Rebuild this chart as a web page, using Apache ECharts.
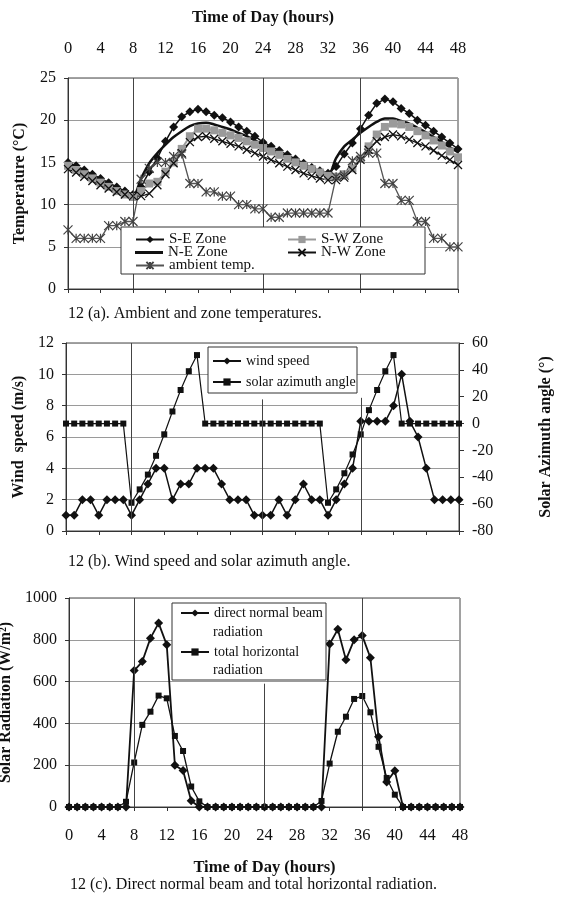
<!DOCTYPE html>
<html lang="en">
<head>
<meta charset="UTF-8">
<title>Fig. 12 - zone temperatures, wind and solar radiation</title>
<style>
  html, body { margin: 0; padding: 0; background: #fff; }
  #chart { width: 571px; height: 903px; }
</style>
</head>
<body>
<div id="chart"></div>
<script src="https://cdn.jsdelivr.net/npm/echarts@6.0.0/dist/echarts.min.js"></script>
<script>
// time of day (hours), shared by the three panels
var hours = [0, 1, 2, 3, 4, 5, 6, 7, 8, 9, 10, 11, 12, 13, 14, 15, 16, 17, 18, 19, 20, 21, 22, 23, 24,
             25, 26, 27, 28, 29, 30, 31, 32, 33, 34, 35, 36, 37, 38, 39, 40, 41, 42, 43, 44, 45, 46, 47, 48];

// 12 (a) temperatures, deg C
var seZone = [15.0, 14.6, 14.1, 13.6, 13.1, 12.6, 12.1, 11.6, 11.2,
              12.1, 13.9, 15.5, 17.5, 19.2, 20.4, 21.0, 21.3, 21.0, 20.6, 20.3, 19.8, 19.2,
              18.7, 18.1, 17.4, 16.9, 16.4, 15.9, 15.4, 14.9, 14.4, 14.0, 13.7,
              14.5, 16.0, 17.3, 19.0, 20.6, 22.0, 22.5, 22.2, 21.4, 20.8, 20.0, 19.4, 18.7, 18.0, 17.3, 16.6];
var swZone = [14.6, 14.1, 13.6, 13.1, 12.6, 12.1, 11.6, 11.2, 10.9,
              11.6, 12.5, 12.7, 13.9, 15.0, 16.6, 18.1, 19.0, 19.0, 18.8, 18.5, 18.2, 17.9,
              17.5, 17.1, 16.7, 16.3, 15.9, 15.4, 15.0, 14.6, 14.2, 13.8, 13.4,
              13.3, 13.6, 14.3, 15.4, 16.9, 18.3, 19.2, 19.6, 19.5, 19.2, 18.7, 18.2, 17.6, 17.0, 16.3, 15.6];
var neZone = [14.6, 14.1, 13.6, 13.1, 12.6, 12.1, 11.7, 11.3, 11.0,
              13.1, 14.9, 16.1, 17.1, 18.0, 18.7, 19.3, 19.6, 19.7, 19.5, 19.2, 18.9, 18.5,
              18.1, 17.6, 17.1, 16.6, 16.1, 15.6, 15.1, 14.6, 14.2, 13.8, 13.5,
              15.5, 16.9, 17.7, 18.5, 19.2, 19.8, 20.2, 20.2, 19.9, 19.6, 19.1, 18.6, 18.0, 17.4, 16.8, 16.2];
var nwZone = [14.2, 13.8, 13.3, 12.8, 12.3, 11.9, 11.5, 11.2, 11.0,
              11.0, 11.3, 12.3, 13.6, 14.9, 16.1, 17.4, 18.0, 18.1, 17.8, 17.5, 17.2, 16.9,
              16.5, 16.1, 15.7, 15.3, 14.9, 14.5, 14.1, 13.7, 13.4, 13.1, 12.9,
              12.9, 13.2, 14.1, 15.3, 16.5, 17.5, 18.0, 18.3, 18.1, 17.7, 17.3, 16.9, 16.4, 15.8, 15.3, 14.7];
var ambient = [7.0, 6.0, 6.0, 6.0, 6.0, 7.5, 7.5, 8.0, 8.0,
               13.0, 14.3, 15.0, 15.0, 15.7, 16.0, 12.5, 12.5, 11.5, 11.5, 11.0, 11.0, 10.0,
               10.0, 9.5, 9.5, 8.5, 8.5, 9.0, 9.0, 9.0, 9.0, 9.0, 9.0,
               13.3, 13.5, 15.2, 15.7, 16.1, 16.1, 12.5, 12.5, 10.5, 10.5, 8.0, 8.0, 6.0, 6.0, 5.0, 5.0];

// 12 (b) wind speed (m/s) and solar azimuth angle (deg)
var windSpeed = [1, 1, 2, 2, 1, 2, 2, 2, 1, 2, 3, 4, 4, 2, 3, 3, 4, 4, 4, 3, 2, 2, 2, 1, 1,
                 1, 2, 1, 2, 3, 2, 2, 1, 2, 3, 4, 7, 7, 7, 7, 8, 10, 7, 6, 4, 2, 2, 2, 2];
var azimuth = [0, 0, 0, 0, 0, 0, 0, 0,
               -59, -49, -38, -24, -8, 9, 25, 39, 51,
               0, 0, 0, 0, 0, 0, 0, 0, 0, 0, 0, 0, 0, 0, 0,
               -59, -49, -37, -23, -8, 10, 25, 39, 51,
               0, 0, 0, 0, 0, 0, 0, 0];

// 12 (c) radiation, W/m2
var directBeam = [0, 0, 0, 0, 0, 0, 0, 0,
                  653, 696, 808, 880, 776, 200, 175, 30, 0,
                  0, 0, 0, 0, 0, 0, 0, 0, 0, 0, 0, 0, 0, 0, 0,
                  780, 850, 704, 800, 820, 714, 336, 120, 173, 0,
                  0, 0, 0, 0, 0, 0, 0];
var totalHoriz = [0, 0, 0, 0, 0, 0, 0,
                  25, 213, 393, 456, 533, 520, 340, 268, 98, 27, 0,
                  0, 0, 0, 0, 0, 0, 0, 0, 0, 0, 0, 0, 0,
                  29, 208, 360, 432, 517, 531, 453, 288, 139, 59, 0,
                  0, 0, 0, 0, 0, 0, 0];

// hours with a dark vertical line in the original figure
var guideHours = [8, 24, 36];

var FONT = 'Liberation Serif';
var INK = '#111';
var SYM_X = 'path://M0,0L10,10M10,0L0,10';
var SYM_STAR = 'path://M0,0L10,10M10,0L0,10M5,0L5,10';

function pairs(values) {
    return hours.map(function (h, i) { return [h, values[i]]; });
}

// plain numbers on the axes, no thousands separator
function plain(v) { return String(v); }

function xAxis(gridIndex, opts) {
    var ax = {
        type: 'value', gridIndex: gridIndex, min: 0, max: 48, interval: 4,
        axisLine: { show: true, lineStyle: { color: '#333', width: 1 } },
        axisTick: { show: true, length: 4, lineStyle: { color: '#333' } },
        axisLabel: { show: false, fontFamily: FONT, fontSize: 16, color: INK, margin: 16 },
        splitLine: { show: false }
    };
    return Object.assign(ax, opts || {});
}

function yAxis(gridIndex, min, max, interval, name, nameGap, opts) {
    var ax = {
        type: 'value', gridIndex: gridIndex, min: min, max: max, interval: interval,
        name: name, nameLocation: 'middle', nameGap: nameGap, nameRotate: 90,
        nameTextStyle: { fontFamily: FONT, fontSize: 16, fontWeight: 'bold', color: INK },
        axisLine: { show: true, lineStyle: { color: '#333', width: 1 } },
        axisTick: { show: true, length: 4, lineStyle: { color: '#333' } },
        axisLabel: { fontFamily: FONT, fontSize: 16, color: INK, margin: 12, formatter: plain },
        splitLine: { show: true, lineStyle: { color: '#9a9a9a', width: 1 } }
    };
    return Object.assign(ax, opts || {});
}

function guides(tops) {
    // tops: optional upper end (in y units) for a guide line, keyed by hour
    return guideHours.map(function (h) {
        if (tops && tops[h] !== undefined) {
            return [{ coord: [h, 0] }, { coord: [h, tops[h]] }];
        }
        return { xAxis: h };
    });
}

function markLines(tops) {
    return {
        silent: true, symbol: ['none', 'none'], animation: false,
        label: { show: false },
        lineStyle: { color: '#444', width: 1, type: 'solid' },
        data: guides(tops)
    };
}

function legendItem(item, left, top, size) {
    return {
        data: [item], left: left, top: top, padding: 0, orient: 'horizontal',
        itemWidth: 28, itemHeight: 9, selectedMode: false, z: 20,
        textStyle: { fontFamily: FONT, fontSize: size, lineHeight: size, color: INK }
    };
}

function box(x, y, w, h) {
    return {
        type: 'rect', z: 10, silent: true,
        shape: { x: x, y: y, width: w, height: h },
        style: { fill: '#fff', stroke: '#333', lineWidth: 1 }
    };
}

var captionStyle = { fontFamily: FONT, fontSize: 16, fontWeight: 'normal', color: INK };

var chart = echarts.init(document.getElementById('chart'), null, { renderer: 'canvas' });

var option = {
    animation: false,
    backgroundColor: '#fff',
    textStyle: { fontFamily: FONT, color: INK },
    title: [
        { text: '12 (a). Ambient and zone temperatures.', left: 68, top: 306, padding: 0, textStyle: captionStyle },
        { text: '12 (b). Wind speed and solar azimuth angle.', left: 68, top: 554, padding: 0, textStyle: captionStyle },
        { text: '12 (c). Direct normal beam and total horizontal radiation.', left: 70, top: 877, padding: 0, textStyle: captionStyle }
    ],
    grid: [
        { left: 68, top: 78, width: 390, height: 211, show: true, borderColor: '#444', borderWidth: 1, outerBoundsMode: 'none' },
        { left: 66, top: 343, width: 393, height: 188, show: true, borderColor: '#444', borderWidth: 1, outerBoundsMode: 'none' },
        { left: 69, top: 598, width: 391, height: 209, show: true, borderColor: '#444', borderWidth: 1, outerBoundsMode: 'none' }
    ],
    xAxis: [
        xAxis(0, {
            position: 'top',
            name: 'Time of Day (hours)', nameLocation: 'middle', nameGap: 52,
            nameTextStyle: { fontFamily: FONT, fontSize: 16.5, fontWeight: 'bold', color: INK },
            axisTick: { show: true, inside: true, length: 4, lineStyle: { color: '#333' } },
            axisLabel: { show: true, fontFamily: FONT, fontSize: 16.5, color: INK, margin: 21 }
        }),
        xAxis(1),
        xAxis(2, {
            name: 'Time of Day (hours)', nameLocation: 'middle', nameGap: 52,
            nameTextStyle: { fontFamily: FONT, fontSize: 16.5, fontWeight: 'bold', color: INK },
            axisLabel: { show: true, fontFamily: FONT, fontSize: 16.5, color: INK, margin: 20 }
        })
    ],
    yAxis: [
        yAxis(0, 0, 25, 5, 'Temperature (\u00B0C)', 40),
        yAxis(1, 0, 12, 2, 'Wind  speed (m/s)', 38),
        yAxis(1, -80, 60, 20, 'Solar Azimuth angle (\u00B0)', 79, {
            position: 'right',
            axisTick: { show: true, length: 5, lineStyle: { color: '#333' } },
            axisLabel: { fontFamily: FONT, fontSize: 16, color: INK, margin: 13, formatter: plain },
            splitLine: { show: false }
        }),
        yAxis(2, 0, 1000, 200, 'Solar Radiation (W/m\u00B2)', 50)
    ],
    legend: [
        legendItem('S-E Zone', 135, 232, 15),
        Object.assign(legendItem({ name: 'N-E Zone', icon: 'rect' }, 135, 245, 15), { itemHeight: 3 }),
        legendItem('ambient temp.', 135, 258, 15),
        legendItem('S-W Zone', 287, 232, 15),
        legendItem('N-W Zone', 287, 245, 15),
        legendItem('wind speed', 212, 354, 14),
        legendItem('solar azimuth angle', 212, 375, 14),
        Object.assign(legendItem('direct normal beam radiation', 180, 606, 14), {
            formatter: function () { return 'direct normal beam'; }
        }),
        Object.assign(legendItem('total horizontal radiation', 180, 645, 14), {
            formatter: function () { return 'total horizontal'; }
        })
    ],
    graphic: [
        box(121, 227, 304, 47),
        box(208, 347, 149, 46),
        box(172, 603, 154, 77),
        { type: 'text', z: 21, silent: true, left: 213, top: 625,
          style: { text: 'radiation', font: '14px "' + FONT + '"', fill: INK } },
        { type: 'text', z: 21, silent: true, left: 213, top: 663,
          style: { text: 'radiation', font: '14px "' + FONT + '"', fill: INK } }
    ],
    series: [
        {
            name: 'S-E Zone', type: 'line', xAxisIndex: 0, yAxisIndex: 0, data: pairs(seZone),
            symbol: 'diamond', symbolSize: 9,
            lineStyle: { color: INK, width: 1.5 }, itemStyle: { color: INK },
            markLine: markLines()
        },
        {
            name: 'S-W Zone', type: 'line', xAxisIndex: 0, yAxisIndex: 0, data: pairs(swZone),
            symbol: 'rect', symbolSize: 8,
            lineStyle: { color: '#9a9a9a', width: 2 }, itemStyle: { color: '#9a9a9a' }
        },
        {
            name: 'N-E Zone', type: 'line', xAxisIndex: 0, yAxisIndex: 0, data: pairs(neZone),
            symbol: 'none', smooth: 0.3,
            lineStyle: { color: INK, width: 2.5 }, itemStyle: { color: INK }
        },
        {
            name: 'N-W Zone', type: 'line', xAxisIndex: 0, yAxisIndex: 0, data: pairs(nwZone),
            symbol: SYM_X, symbolSize: 8,
            lineStyle: { color: INK, width: 1.3 },
            itemStyle: { color: INK, borderColor: INK, borderWidth: 1.3 }
        },
        {
            name: 'ambient temp.', type: 'line', xAxisIndex: 0, yAxisIndex: 0, data: pairs(ambient),
            symbol: SYM_STAR, symbolSize: 9,
            lineStyle: { color: '#555', width: 1.3 },
            itemStyle: { color: '#444', borderColor: '#444', borderWidth: 1.2 }
        },
        {
            name: 'wind speed', type: 'line', xAxisIndex: 1, yAxisIndex: 1, data: pairs(windSpeed),
            symbol: 'diamond', symbolSize: 9,
            lineStyle: { color: INK, width: 1.5 }, itemStyle: { color: INK },
            markLine: markLines({ 24: 8.4, 36: 8.5 })
        },
        {
            name: 'solar azimuth angle', type: 'line', xAxisIndex: 1, yAxisIndex: 2, data: pairs(azimuth),
            symbol: 'rect', symbolSize: 6,
            lineStyle: { color: INK, width: 1.2 }, itemStyle: { color: INK }
        },
        {
            name: 'direct normal beam radiation', type: 'line', xAxisIndex: 2, yAxisIndex: 3, data: pairs(directBeam),
            symbol: 'diamond', symbolSize: 9,
            lineStyle: { color: INK, width: 1.8 }, itemStyle: { color: INK },
            markLine: markLines({ 24: 590 })
        },
        {
            name: 'total horizontal radiation', type: 'line', xAxisIndex: 2, yAxisIndex: 3, data: pairs(totalHoriz),
            symbol: 'rect', symbolSize: 6,
            lineStyle: { color: INK, width: 1.3 }, itemStyle: { color: INK }
        }
    ]
};

chart.setOption(option);
</script>
</body>
</html>
